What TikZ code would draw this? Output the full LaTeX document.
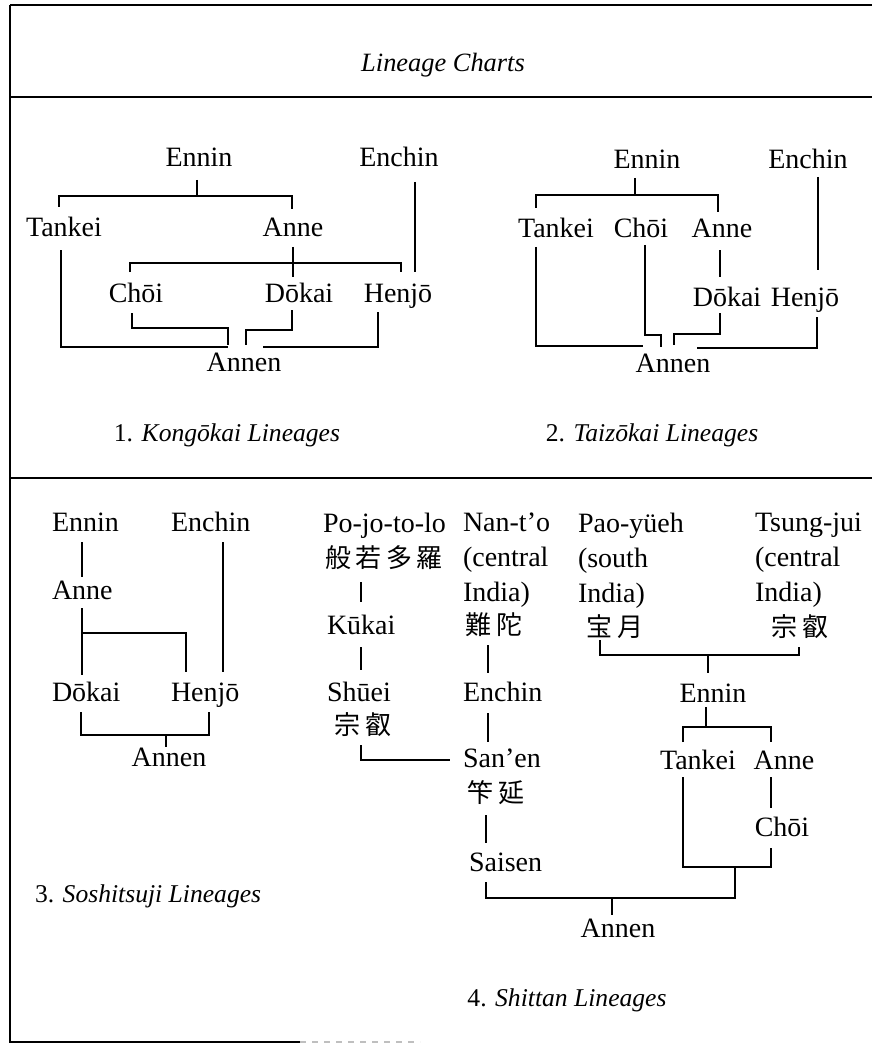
\documentclass[tikz,border=0pt]{standalone}
\usepackage{fontspec}
\setmainfont{Liberation Serif}
\newfontfamily\cjk{Noto Sans CJK JP}
\begin{document}
\begin{tikzpicture}[x=0.5pt,y=-0.5pt,line width=1pt,
  every node/.style={inner sep=0pt,outer sep=0pt,font=\fontsize{14}{17.5}\selectfont},
  nm/.style={anchor=base},
  lw/.style={anchor=base west},
  ml/.style={anchor=north west,align=left},
  cj/.style={anchor=center,font=\fontsize{13}{15}\selectfont\cjk},
  captxt/.style={anchor=base,font=\fontsize{12.8}{15}\selectfont},
  frameline/.style={line width=1.2pt},
  conn/.style={line width=1pt}]
\useasboundingbox (0,0) rectangle (872,1043);
% frame
\draw[frameline] (10,5) -- (872,5);
\draw[frameline] (10,97) -- (872,97);
\draw[frameline] (10,478) -- (872,478);
\draw[frameline] (10,5) -- (10,1042) -- (300,1042);
\draw[frameline,gray!50,dashed] (300,1042) -- (420,1042);
\node[anchor=base,font=\fontsize{13.2}{16}\selectfont\itshape] (title) at (443,72) {Lineage Charts};
% panel 1
\node[nm] (p1ennin) at (199,167) {Ennin};
\node[nm] (p1enchin) at (399,167) {Enchin};
\node[nm] (p1tankei) at (64,236) {Tankei};
\node[nm] (p1anne) at (293,236) {Anne};
\node[nm] (p1choi) at (136,302) {Chōi};
\node[nm] (p1dokai) at (299,302) {Dōkai};
\node[nm] (p1henjo) at (398,302) {Henjō};
\node[nm] (p1annen) at (244,371) {Annen};
\node[captxt] (cap1) at (227,441) {1. \textit{Kongōkai Lineages}};
\draw[conn] (197,180) -- (197,196);
\draw[conn] (59,207) -- (59,196) -- (292,196) -- (292,209);
\draw[conn] (293,247) -- (293,277);
\draw[conn] (130,272) -- (130,263) -- (401,263) -- (401,272);
\draw[conn] (415,182) -- (415,272);
\draw[conn] (61,250) -- (61,347) -- (228,347);
\draw[conn] (132,313) -- (132,328) -- (228,328) -- (228,345);
\draw[conn] (292,310) -- (292,330) -- (246,330) -- (246,345);
\draw[conn] (378,312) -- (378,347) -- (263,347);
% panel 2
\node[nm] (p2ennin) at (647,169) {Ennin};
\node[nm] (p2enchin) at (808,169) {Enchin};
\node[nm] (p2tankei) at (556,237) {Tankei};
\node[nm] (p2choi) at (641,237) {Chōi};
\node[nm] (p2anne) at (722,237) {Anne};
\node[nm] (p2dokai) at (727,306) {Dōkai};
\node[nm] (p2henjo) at (805,306) {Henjō};
\node[nm] (p2annen) at (673,372) {Annen};
\node[captxt] (cap2) at (652,441) {2. \textit{Taizōkai Lineages}};
\draw[conn] (635,178) -- (635,195);
\draw[conn] (536,208) -- (536,195) -- (718,195) -- (718,212);
\draw[conn] (818,177) -- (818,270);
\draw[conn] (720,250) -- (720,277);
\draw[conn] (536,247) -- (536,346) -- (643,346);
\draw[conn] (645,245) -- (645,335) -- (661,335) -- (661,347);
\draw[conn] (720,313) -- (720,334) -- (674,334) -- (674,345);
\draw[conn] (817,317) -- (817,348) -- (697,348);
% panel 3
\node[lw] (p3ennin) at (52,531) {Ennin};
\node[lw] (p3enchin) at (171,531) {Enchin};
\node[lw] (p3anne) at (52,599) {Anne};
\node[lw] (p3dokai) at (52,701) {Dōkai};
\node[lw] (p3henjo) at (171,701) {Henjō};
\node[nm] (p3annen) at (169,766) {Annen};
\node[captxt,anchor=base west] (cap3) at (35,902) {3. \textit{Soshitsuji Lineages}};
\draw[conn] (82,542) -- (82,577);
\draw[conn] (82,608) -- (82,675);
\draw[conn] (82,633) -- (186,633) -- (186,672);
\draw[conn] (223,542) -- (223,672);
\draw[conn] (81,712) -- (81,735) -- (209,735) -- (209,712);
\draw[conn] (166,735) -- (166,747);
% panel 4
\node[lw] (pojo) at (323,532) {Po-jo-to-lo};
\node[cj] (pojocj) at (384,558) {般\,若\,多\,羅};
\node[lw] (kukai) at (327,634) {Kūkai};
\node[lw] (shuei) at (327,701) {Shūei};
\node[cj] (shueicj) at (363,725) {宗\,叡};
\node[ml] (nanto) at (463,513) {Nan-t’o\\(central\\India)};
\node[cj] (nandacj) at (494,625) {難\,陀};
\node[lw] (p4enchin) at (463,701) {Enchin};
\node[lw] (sanen) at (463,767) {San’en};
\node[cj] (sanencj) at (496,793) {笇\,延};
\node[lw] (saisen) at (469,871) {Saisen};
\node[ml] (pao) at (578,513) {Pao-yüeh\\(south\\India)};
\node[cj] (paocj) at (615,627) {宝\,月};
\node[ml] (tsung) at (755,513) {Tsung-jui\\(central\\India)};
\node[cj] (tsungcj) at (800,627) {宗\,叡};
\node[nm] (p4ennin) at (713,702) {Ennin};
\node[nm] (p4tankei) at (698,769) {Tankei};
\node[nm] (p4anne) at (784,769) {Anne};
\node[nm] (p4choi) at (782,836) {Chōi};
\node[nm] (p4annen) at (618,937) {Annen};
\node[captxt] (cap4) at (567,1006) {4. \textit{Shittan Lineages}};
\draw[conn] (361,582) -- (361,602);
\draw[conn] (361,647) -- (361,670);
\draw[conn] (361,745) -- (361,760) -- (450,760);
\draw[conn] (488,645) -- (488,673);
\draw[conn] (488,713) -- (488,742);
\draw[conn] (486,815) -- (486,843);
\draw[conn] (486,882) -- (486,898) -- (735,898) -- (735,867);
\draw[conn] (612,898) -- (612,915);
\draw[conn] (600,640) -- (600,655) -- (799,655) -- (799,647);
\draw[conn] (708,655) -- (708,673);
\draw[conn] (706,707) -- (706,727);
\draw[conn] (683,742) -- (683,727) -- (771,727) -- (771,742);
\draw[conn] (683,777) -- (683,867) -- (771,867) -- (771,848);
\draw[conn] (771,777) -- (771,808);
\end{tikzpicture}
\end{document}
